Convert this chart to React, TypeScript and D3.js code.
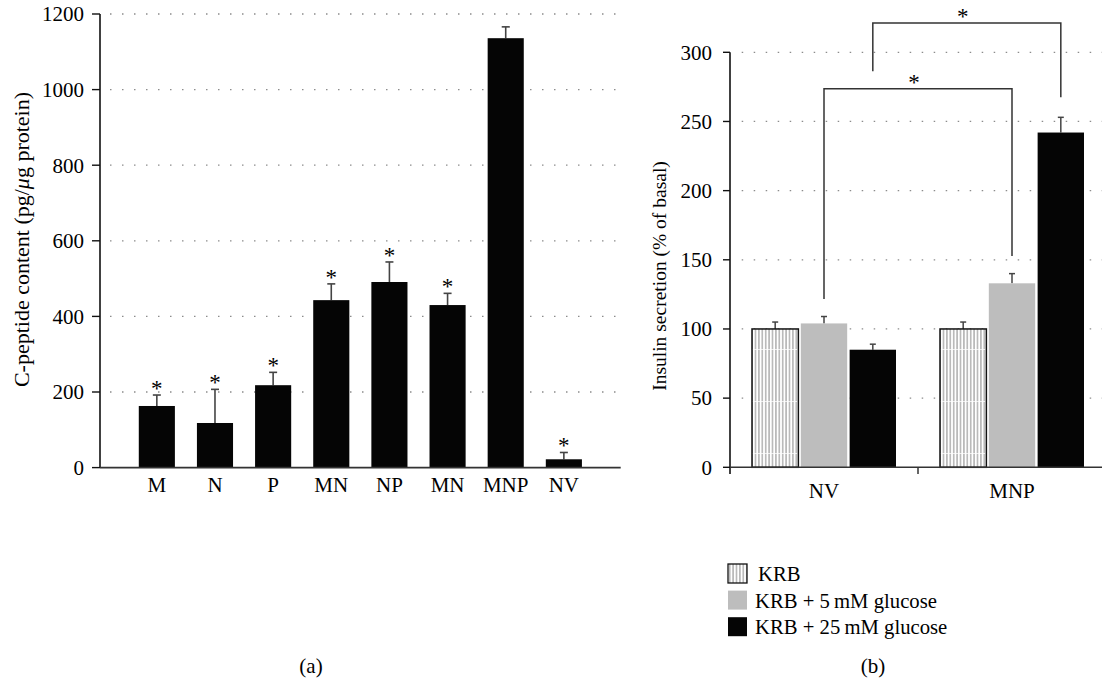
import React from 'react'
import * as d3 from 'd3'

// panel (a) data
const groupsA = ['M', 'N', 'P', 'MN', 'NP', 'MN', 'MNP', 'NV']
const cpeptide = [163, 118, 218, 443, 491, 430, 1136, 22]
const cpeptideErr = [29, 89, 34, 43, 53, 31, 30, 18]
const starA = [true, true, true, true, true, true, false, true]
const ticksA = [0, 200, 400, 600, 800, 1000, 1200]

// panel (b) data
const groupsB = ['NV', 'MNP']
const seriesB = ['KRB', 'KRB + 5\u2009mM glucose', 'KRB + 25\u2009mM glucose']
const krb = [100, 100]
const glc5 = [104, 133]
const glc25 = [85, 242]
const krbErr = [5, 5]
const glc5Err = [5, 7]
const glc25Err = [4, 11]
const ticksB = [0, 50, 100, 150, 200, 250, 300]

// significance brackets: series index, top level, left and right leg ends
const brackets = [
    { s: 1, top: 273.6, left: 121.6, right: 152.8 },
    { s: 2, top: 321.2, left: 286.3, right: 267.5 },
]

const font = '"Liberation Serif", "Times New Roman", serif'
const fills = ['url(#stripes)', '#bdbdbd', '#050505']
const fs = 21

export default function App() {
    // ---- scales (a)
    const yA = d3.scaleLinear().domain([0, 1200]).range([467.6, 14])
    const xA = d3.scaleBand<number>()
        .domain(d3.range(groupsA.length))
        .range([100, 620.7])
        .paddingInner(0.379)
        .paddingOuter(0.667)

    // ---- scales (b)
    const yB = d3.scaleLinear().domain([0, 300]).range([467.3, 52.3])
    const xB = d3.scaleBand<string>().domain(groupsB).range([730, 1106])
    const xS = d3.scaleBand<number>().domain([0, 1, 2]).range([22, 166]).paddingInner(0.05)

    const valuesB = [krb, glc5, glc25]
    const errB = [krbErr, glc5Err, glc25Err]
    const barCenter = (s: number, g: number) => (xB(groupsB[g]) as number) + (xS(s) as number) + xS.bandwidth() / 2

    return (
        <svg width={1102} height={682} style={{ position: 'absolute', left: 0, top: 0, fontFamily: font }}>
            <defs>
                <pattern id="stripes" patternUnits="userSpaceOnUse" width={3.4} height={52} y={37}>
                    <rect width={3.4} height={52} fill="#fff" />
                    <line x1={1.7} x2={1.7} y1={0} y2={52} stroke="#8a8a8a" strokeWidth={1} />
                    <line x1={0} x2={3.4} y1={0} y2={0} stroke="#fff" strokeWidth={1.5} />
                </pattern>
            </defs>

            {/* ================= panel (a) ================= */}
            <g>
                {ticksA.filter(t => t > 0).map(t => (
                    <line key={t} x1={110} x2={620} y1={yA(t)} y2={yA(t)}
                        stroke="#8c8c8c" strokeWidth={1.3} strokeDasharray="1.5 10.5" />
                ))}
                {cpeptide.map((v, i) => {
                    const x = xA(i) as number
                    const cx = x + xA.bandwidth() / 2
                    const top = yA(v + cpeptideErr[i])
                    return (
                        <g key={i}>
                            <line x1={cx} x2={cx} y1={yA(v)} y2={top} stroke="#444" strokeWidth={1.6} />
                            <line x1={cx - 4} x2={cx + 4} y1={top} y2={top} stroke="#444" strokeWidth={1.6} />
                            <rect x={x} y={yA(v)} width={xA.bandwidth()} height={yA(0) - yA(v)} fill="#050505" />
                            {starA[i] && (
                                <text x={cx} y={top + 1} textAnchor="middle" fontSize={23}>*</text>
                            )}
                        </g>
                    )
                })}
                <line x1={100} x2={100} y1={14} y2={yA(0)} stroke="#111" strokeWidth={1.6} />
                <line x1={100} x2={620.7} y1={yA(0)} y2={yA(0)} stroke="#333" strokeWidth={1.6} />
                {ticksA.map(t => (
                    <g key={t}>
                        <line x1={92} x2={100} y1={yA(t)} y2={yA(t)} stroke="#111" strokeWidth={1.4} />
                        <text x={84} y={yA(t)} dy="0.35em" textAnchor="end" fontSize={fs}>{t}</text>
                    </g>
                ))}
                {groupsA.map((g, i) => (
                    <text key={i} x={(xA(i) as number) + xA.bandwidth() / 2} y={492} textAnchor="middle" fontSize={fs}>{g}</text>
                ))}
                <text transform={`translate(29,${(97 + 382) / 2}) rotate(-90)`} textAnchor="middle" fontSize={22}>
                    C-peptide content (pg/<tspan fontStyle="italic">μ</tspan>g protein)
                </text>
                <text x={311} y={673} textAnchor="middle" fontSize={fs}>(a)</text>
            </g>

            {/* ================= panel (b) ================= */}
            <g>
                {ticksB.filter(t => t > 0).map(t => (
                    <line key={t} x1={741.7} x2={1102} y1={yB(t)} y2={yB(t)}
                        stroke="#8c8c8c" strokeWidth={1.3} strokeDasharray="1.5 10.5" />
                ))}
                {groupsB.map((g, gi) => (
                    <g key={g} transform={`translate(${xB(g)},0)`}>
                        {valuesB.map((vals, s) => {
                            const v = vals[gi]
                            const x = xS(s) as number
                            const cx = x + xS.bandwidth() / 2
                            const top = yB(v + errB[s][gi])
                            return (
                                <g key={s}>
                                    <line x1={cx} x2={cx} y1={yB(v)} y2={top} stroke="#444" strokeWidth={1.5} />
                                    <line x1={cx - 3} x2={cx + 3} y1={top} y2={top} stroke="#444" strokeWidth={1.5} />
                                    <rect x={x} y={yB(v)} width={xS.bandwidth()} height={yB(0) - yB(v)}
                                        fill={fills[s]} stroke={s === 0 ? '#111' : 'none'} strokeWidth={1.5} />
                                </g>
                            )
                        })}
                    </g>
                ))}
                {brackets.map((b, i) => {
                    const x1 = barCenter(b.s, 0)
                    const x2 = barCenter(b.s, 1)
                    return (
                        <g key={i}>
                            <path d={`M${x1},${yB(b.left)}V${yB(b.top)}H${x2}V${yB(b.right)}`}
                                fill="none" stroke="#333" strokeWidth={1.5} />
                            <text x={(x1 + x2) / 2 - 4} y={yB(b.top) + 1} textAnchor="middle" fontSize={23}>*</text>
                        </g>
                    )
                })}
                <line x1={730} x2={730} y1={52.3} y2={474} stroke="#111" strokeWidth={1.6} />
                <line x1={730} x2={1102} y1={yB(0)} y2={yB(0)} stroke="#333" strokeWidth={1.6} />
                {groupsB.map(g => (
                    <line key={g} x1={(xB(g) as number) + xB.bandwidth()} x2={(xB(g) as number) + xB.bandwidth()}
                        y1={yB(0)} y2={474} stroke="#333" strokeWidth={1.5} />
                ))}
                {ticksB.map(t => (
                    <g key={t}>
                        <line x1={723} x2={730} y1={yB(t)} y2={yB(t)} stroke="#111" strokeWidth={1.4} />
                        <text x={712} y={yB(t)} dy="0.35em" textAnchor="end" fontSize={fs}>{t}</text>
                    </g>
                ))}
                {groupsB.map(g => (
                    <text key={g} x={(xB(g) as number) + xB.bandwidth() / 2} y={498} textAnchor="middle" fontSize={fs}>{g}</text>
                ))}
                <text transform={`translate(666,276) rotate(-90)`} textAnchor="middle" fontSize={19.5}>
                    Insulin secretion (% of basal)
                </text>

                {/* legend */}
                {seriesB.map((s, i) => (
                    <g key={s} transform={`translate(728,${564 + i * 26.6})`}>
                        <rect x={0} y={0} width={19} height={19} fill={fills[i]}
                            stroke={i === 0 ? '#111' : 'none'} strokeWidth={1.3} />
                        <text x={i === 0 ? 30 : 27} y={17} fontSize={20.7}>{s}</text>
                    </g>
                ))}
                <text x={873} y={673} textAnchor="middle" fontSize={fs}>(b)</text>
            </g>
        </svg>
    )
}
